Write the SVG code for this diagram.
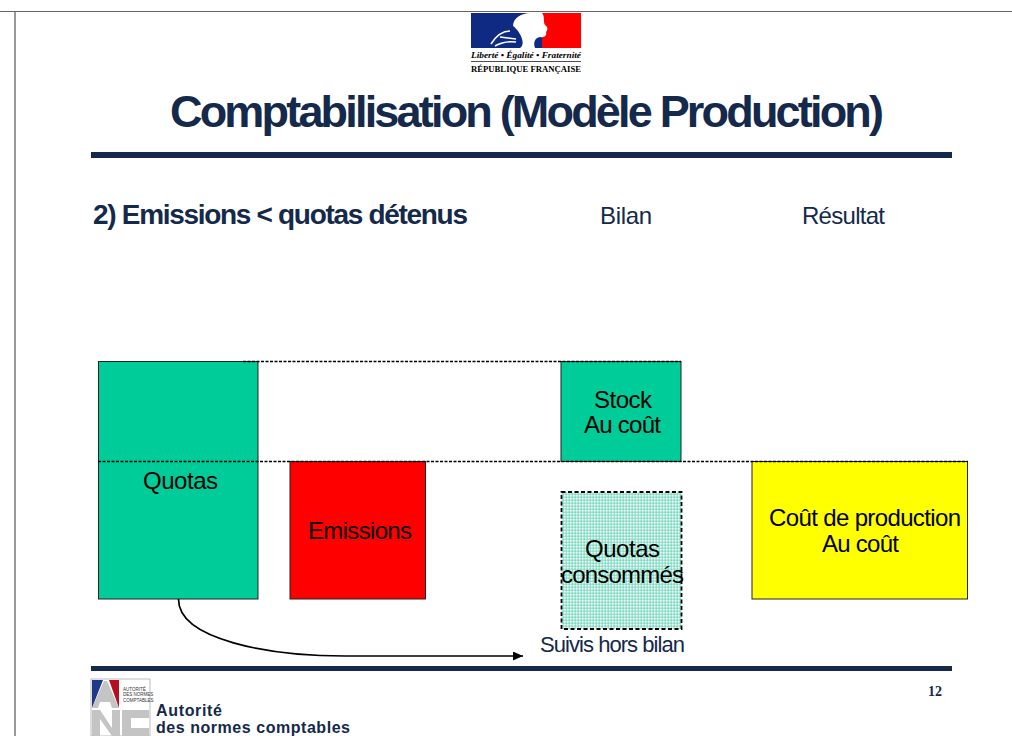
<svg xmlns="http://www.w3.org/2000/svg" width="1012" height="736" viewBox="0 0 1012 736">
<style>
text{font-family:"Liberation Sans",Arial,sans-serif}
.navy{fill:#14294b}
.blk{fill:#000;font-size:24px}
.box{stroke:#222;stroke-width:1}
.dash{stroke:#000;stroke-width:1.500;stroke-dasharray:3 1.500;fill:none}
</style>
<defs>
<pattern id="dots" width="3" height="3" patternUnits="userSpaceOnUse"><rect width="3" height="3" fill="#a8e6d6"/><rect width="1.5" height="1.5" fill="#f2fbf8"/><rect x="1.5" y="1.5" width="1.5" height="1.5" fill="#7fdcc4"/></pattern>
<marker id="arrow" markerWidth="12" markerHeight="10" refX="10" refY="4.500" orient="auto" markerUnits="userSpaceOnUse"><path d="M0 0L10 4.500L0 9Z" fill="#000"/></marker>
</defs>
<rect width="1012" height="736" fill="#fff"/>
<g id="frame">
<path d="M0 11.500H1012" stroke="#666" stroke-width="1.200"/>
<path d="M15 12V736" stroke="#777" stroke-width="1.500"/>
</g>
<g id="marianne">
<rect x="471" y="13" width="110" height="35" fill="#0f2a82"/>
<rect x="542" y="13" width="39" height="35" fill="#fe0000"/>
<path d="M520 48C527 44 519 30 513 26C513 18 522 13 530 13H542C545 16 543 22 545 25C548 27 548 30 546 32C547 35 545 38 540 37C535 38 533 42 535 48Z" fill="#fff"/>
<path d="M491 44C496 36 503 31 510 31M495 46C502 42 508 41 516 42M500 37L516 39" stroke="#fff" stroke-width="1.600" fill="none"/>
<text x="471" y="58" font-size="7.500" font-weight="700" font-style="italic" textLength="110" lengthAdjust="spacingAndGlyphs" style="font-family:'Liberation Serif',serif">Liberté • Égalité • Fraternité</text>
<path d="M471 61.500H581" stroke="#222" stroke-width="0.800"/>
<text x="471" y="72" font-size="8" font-weight="700" textLength="110" lengthAdjust="spacingAndGlyphs" style="font-family:'Liberation Serif',serif">RÉPUBLIQUE FRANÇAISE</text>
</g>
<g id="title">
<text class="navy" x="170" y="127" font-size="45" font-weight="700" textLength="714" lengthAdjust="spacing">Comptabilisation (Modèle Production)</text>
<rect x="91" y="152" width="861" height="6" fill="#14294b"/>
</g>
<g id="headers">
<text class="navy" x="93" y="224" font-size="28" font-weight="700" textLength="375" lengthAdjust="spacing">2) Emissions &lt; quotas détenus</text>
<text class="navy" x="600" y="224" font-size="24" textLength="52" lengthAdjust="spacing">Bilan</text>
<text class="navy" x="802" y="224" font-size="24" textLength="83" lengthAdjust="spacing">Résultat</text>
</g>
<g id="quotas">
<rect class="box" x="98.500" y="361.500" width="159.500" height="237.500" fill="#00cc99"/>
<text class="blk" x="143" y="489" textLength="75" lengthAdjust="spacing">Quotas</text>
</g>
<g id="emissions">
<rect class="box" x="290" y="461.500" width="135.500" height="137.500" fill="#ff0000"/>
<text class="blk" x="308" y="539" textLength="104" lengthAdjust="spacing">Emissions</text>
</g>
<g id="stock">
<rect class="box" x="561" y="361.500" width="120" height="100" fill="#00cc99"/>
<text class="blk" x="594" y="408" textLength="58" lengthAdjust="spacing">Stock</text>
<text class="blk" x="584" y="433" textLength="77" lengthAdjust="spacing">Au coût</text>
</g>
<g id="quotas-consommes">
<rect x="561.500" y="492" width="120" height="137" fill="url(#dots)" stroke="#000" stroke-width="1.800" stroke-dasharray="4 2.500"/>
<text class="blk" x="585" y="557" textLength="75" lengthAdjust="spacing">Quotas</text>
<text class="blk" x="561" y="583" textLength="123" lengthAdjust="spacing">consommés</text>
</g>
<g id="cout-production">
<rect class="box" x="752" y="461.500" width="215.500" height="137.500" fill="#ffff00"/>
<text class="blk" x="769" y="526" textLength="192" lengthAdjust="spacing">Coût de production</text>
<text class="blk" x="822" y="552" textLength="77" lengthAdjust="spacing">Au coût</text>
</g>
<g id="connectors">
<path class="dash" d="M243 361.500H681"/>
<path class="dash" d="M98 461.500H968"/>
<path d="M178.500 599C178 640 270 656 345 656H523" fill="none" stroke="#000" stroke-width="1.700" marker-end="url(#arrow)"/>
</g>
<g id="suivis">
<text class="navy" x="540" y="652" font-size="22" textLength="145" lengthAdjust="spacing">Suivis hors bilan</text>
</g>
<g id="footer">
<rect x="91" y="666" width="861" height="5" fill="#14294b"/>
<text class="navy" x="928" y="696" font-size="14" font-weight="700" style="font-family:'Liberation Serif',serif">12</text>
<rect x="91" y="679" width="59" height="57" fill="#fff" stroke="#aaa" stroke-width="0.800"/>
<path d="M92 680H103L92 708Z" fill="#1f3a8a"/>
<path d="M109 680H119V708Z" fill="#b40f1e"/>
<path d="M92 708L104 681H107L119 708H112L110 702H100L98 708Z" fill="#c4c4c4"/>
<path d="M92 710H100L112 728V710H120V736H112L100 719V736H92Z" fill="#c4c4c4"/>
<path d="M149 710H122V736H149V728H131V718H149Z" fill="#c4c4c4"/>
<text x="123" y="691" font-size="4.500" fill="#333">AUTORITÉ</text>
<text x="123" y="696" font-size="4.500" fill="#333">DES NORMES</text>
<text x="123" y="702" font-size="4.500" fill="#333">COMPTABLES</text>
<text class="navy" x="156" y="716" font-size="16" font-weight="700" textLength="66" lengthAdjust="spacing">Autorité</text>
<text class="navy" x="156" y="733" font-size="16" font-weight="700" textLength="194" lengthAdjust="spacing">des normes comptables</text>
</g>
</svg>
